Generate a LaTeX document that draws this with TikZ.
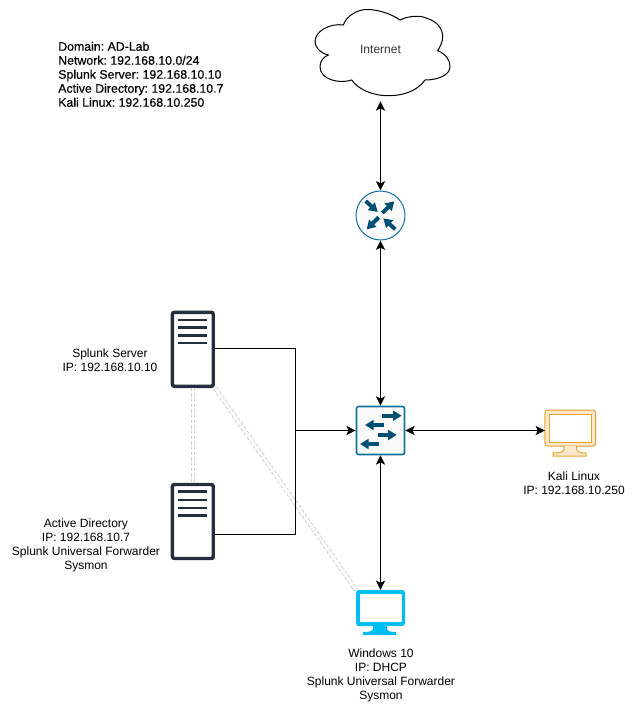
\documentclass[tikz,border=0pt]{standalone}
\usepackage{fontspec}
\setmainfont{Liberation Sans}
\newfontfamily\heavyfont[FakeBold=0.45]{Liberation Sans}
\usetikzlibrary{arrows.meta}
\definecolor{serverdark}{HTML}{232F3E}
\definecolor{ciscoblue}{HTML}{005073}
\definecolor{ciscoline}{HTML}{10739E}
\definecolor{iconfill}{HTML}{FAFAFA}
\definecolor{winblue}{HTML}{00BEF2}
\definecolor{kalifill}{HTML}{FFE6CC}
\definecolor{kaliline}{HTML}{E1A42B}
\definecolor{dashgray}{HTML}{D0D0D0}
\tikzset{
  txt/.style={font=\fontsize{9}{10.5}\selectfont\frenchspacing, align=center, inner sep=0pt},
  serverbox/.style={draw=serverdark, fill=white, line width=2.6pt, rounded corners=1.5pt,
    minimum width=30.6pt, minimum height=55.5pt, inner sep=0pt},
  screenbox/.style={minimum width=36.75pt, minimum height=27pt, inner sep=0pt, outer sep=0pt},
  wire/.style={line width=.75pt},
  link/.style={line width=.75pt, <->},
  dashlink/.style={draw=dashgray, line width=.75pt, double=white, double distance=2pt,
    dash pattern=on 2.5pt off 1.5pt},
  iconarrow/.style={draw=ciscoblue, line width=3pt, -{Triangle[length=6.5pt,width=7.5pt]}},
  >={Stealth[length=7pt,width=6.8pt,inset=1.6pt]}
}
\newcommand{\serverlines}[4]{%
  \foreach \y in {#1,#2,#3,#4}
    \draw[serverdark, line width=2.2pt] (178.3,\y) -- (207.3,\y);
}
\begin{document}
\begin{tikzpicture}[x=.75pt, y=-.75pt]
\useasboundingbox (0,0) rectangle (635,711);

% cloud
\draw[line width=.75pt, fill=white] (343.3,25) .. controls (347,15) and (358,9.5) .. (367,9.5)
  .. controls (380,9.5) and (393,15) .. (400,20)
  .. controls (408,16) and (420,15) .. (426,18)
  .. controls (437,21) and (443,29) .. (442.7,37)
  .. controls (442.7,42) and (440,47) .. (437.7,50.7)
  .. controls (446,54) and (450,60) .. (450,66.7)
  .. controls (450,75) and (438,80) .. (425,80)
  .. controls (418,90) and (405,95.7) .. (388.3,95.7)
  .. controls (372,95.7) and (358,89) .. (351.7,80)
  .. controls (340,84) and (320,80) .. (320,66.7)
  .. controls (320,62) and (323,57) .. (328.3,55)
  .. controls (320,53) and (315,47) .. (315,41.7)
  .. controls (315,31) and (330,23) .. (343.3,25) -- cycle;
\node[txt, text=black!80, minimum height=78pt] (internet) at (380.5,49) {Internet};

% router and switch
\node[circle, draw=ciscoline, fill=iconfill, line width=.75pt, minimum size=36.75pt, inner sep=0pt] (router) at (380.5,215.5) {};
\node[draw=ciscoline, fill=iconfill, line width=1.2pt, rounded corners=1.5pt, minimum size=36pt, inner sep=0pt] (switch) at (380.5,430.5) {};
\foreach \ax/\ay/\bx/\by in {365.7/201/377.7/212, 382.3/213/394.3/201.3, 378.7/217.3/366.7/229.3, 395.3/229.3/383.3/218.3}
  \draw[iconarrow] (\ax,\ay) -- (\bx,\by);
\foreach \ax/\ay/\bx/\by in {382.3/415.7/401.7/415.7, 384/425/365/425, 377.7/435/396.7/435, 379/444/360/444}
  \draw[iconarrow] (\ax,\ay) -- (\bx,\by);

% servers
\node[serverbox] (splunk) at (192.85,349.3) {};
\node[serverbox] (ad) at (192.85,521.5) {};
\serverlines{320}{327.7}{335.3}{343}
\serverlines{491.7}{500}{508}{515.7}

% workstations
\node[screenbox, fill=kalifill, draw=kaliline, line width=.75pt, rounded corners=2pt, minimum width=38pt] (kali) at (570.3,428) {};
\fill[kalifill, draw=kaliline, line width=.75pt] (564,446) -- (564,449) .. controls (564,452) and (560,453) .. (553,453) -- (553,456) -- (586,456) -- (586,453) .. controls (580,453) and (576.7,452) .. (576.7,449) -- (576.7,446);
\draw[kaliline, line width=.75pt, fill=white] (549.3,414.3) rectangle (591.7,442.3);
\node[screenbox, fill=winblue, rounded corners=2pt] (win) at (380.5,608) {};
\fill[winblue] (373,626) -- (373,629) .. controls (373,631) and (369,632) .. (363,632) -- (363,635) -- (396,635) -- (396,632) .. controls (390,632) and (387,631) .. (387,629) -- (387,626) -- cycle;
\fill[white] (360,594) rectangle (401.7,622.3);

% texts
\node[txt, anchor=north west, align=left, font=\fontsize{9.25}{10.5}\selectfont\frenchspacing\heavyfont] (info) at (58,41.5) {Domain: AD-Lab\\Network: 192.168.10.0/24\\Splunk Server: 192.168.10.10\\Active Directory: 192.168.10.7\\Kali Linux: 192.168.10.250};
\node[txt] (splunktxt) at (110,360.3) {Splunk Server\\IP: 192.168.10.10};
\node[txt] (adtxt) at (86,545.3) {Active Directory\\IP: 192.168.10.7\\Splunk Universal Forwarder\\Sysmon};
\node[txt] (wintxt) at (381,675) {Windows 10\\IP: DHCP\\Splunk Universal Forwarder\\Sysmon};
\node[txt] (kalitxt) at (574,483.5) {Kali Linux\\IP: 192.168.10.250};

% connectors
\coordinate (junc) at (295.5,430.5);
\draw[dashlink] (splunk) -- (ad);
\draw[dashlink] (splunk.south east) -- (win.north west);
\draw[wire] ([yshift=.9pt]splunk.east) -| (junc);
\draw[wire] ([yshift=-9.4pt]ad.east) -| (junc);
\draw[wire,->] (junc) -- (switch.west);
\draw[link] (internet) -- (router);
\draw[link] (router) -- (switch);
\draw[link] (switch) -- (win);
\draw[link] (switch.east) -- (switch.east -| kali.west);
\end{tikzpicture}
\end{document}
